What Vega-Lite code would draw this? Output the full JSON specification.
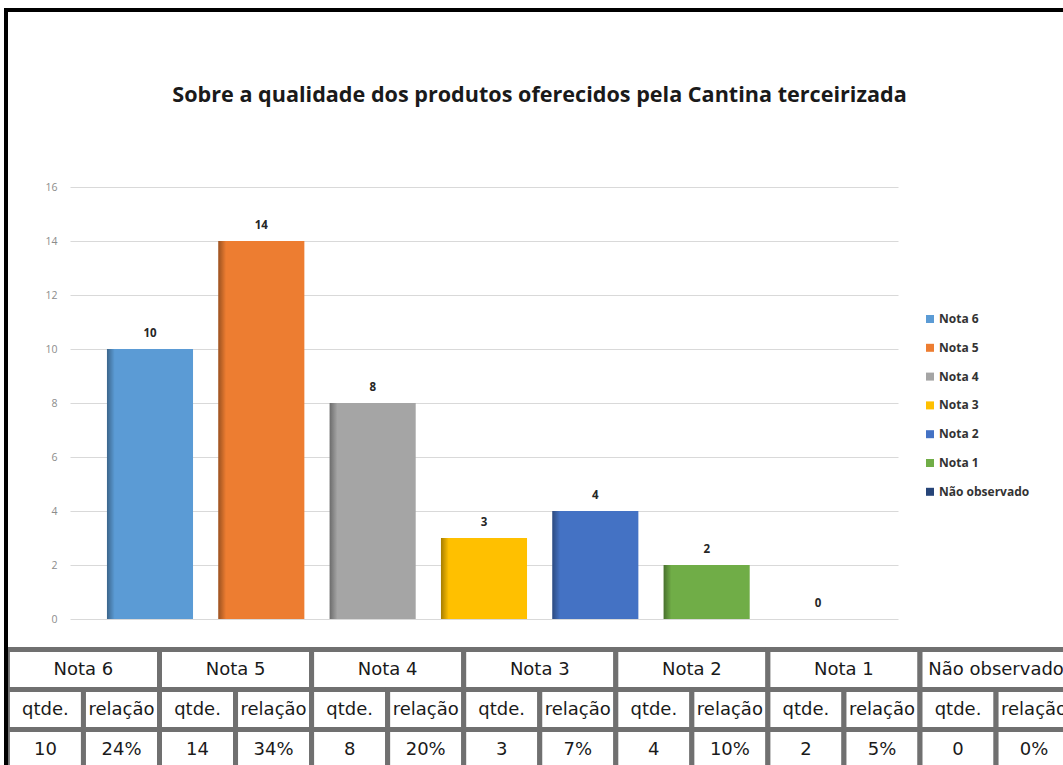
{
  "$schema": "https://vega.github.io/schema/vega-lite/v6.json",
  "width": 1063,
  "height": 765,
  "padding": 0,
  "autosize": {"type": "none"},
  "background": "white",
  "config": {"view": {"stroke": null}},
  "title": {
    "text": "Sobre a qualidade dos produtos oferecidos pela Cantina terceirizada",
    "font": "Open Sans",
    "fontSize": 21.6,
    "fontWeight": "bold",
    "color": "#1a1a1a",
    "anchor": "middle",
    "offset": -107,
    "dx": 8
  },
  "datasets": {
    "notas": [
      {"cat": "Nota 6", "qtde": 10},
      {"cat": "Nota 5", "qtde": 14},
      {"cat": "Nota 4", "qtde": 8},
      {"cat": "Nota 3", "qtde": 3},
      {"cat": "Nota 2", "qtde": 4},
      {"cat": "Nota 1", "qtde": 2},
      {"cat": "Não observado", "qtde": 0}
    ],
    "tabela": [
      {"cat": "Nota 6", "col": "qtde", "cab": "qtde.", "val": "10"},
      {"cat": "Nota 6", "col": "rel", "cab": "relação", "val": "24%"},
      {"cat": "Nota 5", "col": "qtde", "cab": "qtde.", "val": "14"},
      {"cat": "Nota 5", "col": "rel", "cab": "relação", "val": "34%"},
      {"cat": "Nota 4", "col": "qtde", "cab": "qtde.", "val": "8"},
      {"cat": "Nota 4", "col": "rel", "cab": "relação", "val": "20%"},
      {"cat": "Nota 3", "col": "qtde", "cab": "qtde.", "val": "3"},
      {"cat": "Nota 3", "col": "rel", "cab": "relação", "val": "7%"},
      {"cat": "Nota 2", "col": "qtde", "cab": "qtde.", "val": "4"},
      {"cat": "Nota 2", "col": "rel", "cab": "relação", "val": "10%"},
      {"cat": "Nota 1", "col": "qtde", "cab": "qtde.", "val": "2"},
      {"cat": "Nota 1", "col": "rel", "cab": "relação", "val": "5%"},
      {"cat": "Não observado", "col": "qtde", "cab": "qtde.", "val": "0"},
      {"cat": "Não observado", "col": "rel", "cab": "relação", "val": "0%"}
    ]
  },
  "resolve": {
    "scale": {"x": "independent", "y": "independent", "color": "independent", "xOffset": "independent"},
    "axis": {"x": "independent", "y": "independent"}
  },
  "layer": [
    {
      "data": {"name": "notas"},
      "encoding": {
        "x": {
          "field": "cat",
          "type": "nominal",
          "sort": null,
          "scale": {
            "domain": ["Nota 6", "Nota 5", "Nota 4", "Nota 3", "Nota 2", "Nota 1", "Não observado"],
            "range": [70, 898],
            "paddingInner": 0.227,
            "paddingOuter": 0.332
          },
          "axis": null
        },
        "y": {
          "field": "qtde",
          "type": "quantitative",
          "scale": {"domain": [0, 16], "range": [619, 187], "nice": false, "zero": true},
          "axis": {
            "title": null,
            "values": [0, 2, 4, 6, 8, 10, 12, 14, 16],
            "grid": true,
            "gridColor": "#d9d9d9",
            "gridWidth": 1,
            "domain": false,
            "ticks": false,
            "tickSize": 0,
            "labelPadding": 0,
            "offset": -57,
            "labelFont": "Open Sans",
            "labelFontSize": 10.5,
            "labelColor": "#8c8c8c"
          }
        }
      },
      "layer": [
        {
          "mark": {"type": "bar"},
          "encoding": {
            "color": {
              "field": "cat",
              "type": "nominal",
              "sort": null,
              "scale": {
                "domain": ["Nota 6", "Nota 5", "Nota 4", "Nota 3", "Nota 2", "Nota 1", "Não observado"],
                "range": ["#5b9bd5", "#ed7d31", "#a5a5a5", "#ffc000", "#4472c4", "#70ad47", "#264478"]
              },
              "legend": {
                "title": null,
                "orient": "none",
                "legendX": 924,
                "legendY": 313,
                "symbolType": "square",
                "symbolSize": 64,
                "symbolStrokeWidth": 0,
                "labelFont": "Open Sans",
                "labelFontWeight": "bold",
                "labelFontSize": 12,
                "labelColor": "#333333",
                "labelOffset": 3,
                "rowPadding": 16.8
              }
            }
          }
        },
        {
          "mark": {
            "type": "bar",
            "fill": {
              "gradient": "linear",
              "x1": 0, "y1": 0, "x2": 1, "y2": 0,
              "stops": [
                {"offset": 0, "color": "rgba(0,0,0,0.35)"},
                {"offset": 0.09, "color": "rgba(0,0,0,0)"},
                {"offset": 1, "color": "rgba(0,0,0,0)"}
              ]
            }
          }
        },
        {
          "mark": {"type": "text", "baseline": "bottom", "dy": -10, "font": "Open Sans", "fontWeight": "bold", "fontSize": 11.5, "color": "#262626"},
          "encoding": {"text": {"field": "qtde", "type": "quantitative"}}
        }
      ]
    },
    {
      "encoding": {
        "x": {
          "field": "cat",
          "type": "nominal",
          "sort": null,
          "scale": {
            "domain": ["Nota 6", "Nota 5", "Nota 4", "Nota 3", "Nota 2", "Nota 1", "Não observado"],
            "range": [7.4, 1072.1],
            "paddingInner": 0,
            "paddingOuter": 0
          },
          "axis": null
        }
      },
      "layer": [
        {
          "data": {"name": "notas"},
          "mark": {"type": "rect", "fill": "white", "stroke": "#707070", "strokeWidth": 5},
          "encoding": {
            "y": {"datum": "r1", "type": "nominal", "scale": {"domain": ["r1", "r2", "r3"], "range": [649.5, 769.5], "paddingInner": 0, "paddingOuter": 0}, "axis": null}
          }
        },
        {
          "data": {"name": "tabela"},
          "mark": {"type": "rect", "fill": "white", "stroke": "#707070", "strokeWidth": 5},
          "encoding": {
            "xOffset": {"field": "col", "type": "nominal", "scale": {"domain": ["qtde", "rel"], "paddingInner": 0, "paddingOuter": 0}},
            "y": {"datum": "r2", "type": "nominal"}
          }
        },
        {
          "data": {"name": "tabela"},
          "mark": {"type": "rect", "fill": "white", "stroke": "#707070", "strokeWidth": 5},
          "encoding": {
            "xOffset": {"field": "col", "type": "nominal"},
            "y": {"datum": "r3", "type": "nominal"}
          }
        },
        {
          "data": {"name": "notas"},
          "mark": {"type": "text", "font": "DejaVu Sans", "fontSize": 18, "color": "#1a1a1a", "baseline": "middle"},
          "encoding": {
            "y": {"datum": "r1", "type": "nominal"},
            "text": {"field": "cat", "type": "nominal"}
          }
        },
        {
          "data": {"name": "tabela"},
          "mark": {"type": "text", "font": "DejaVu Sans", "fontSize": 18, "color": "#1a1a1a", "baseline": "middle"},
          "encoding": {
            "xOffset": {"field": "col", "type": "nominal"},
            "y": {"datum": "r2", "type": "nominal"},
            "text": {"field": "cab", "type": "nominal"}
          }
        },
        {
          "data": {"name": "tabela"},
          "mark": {"type": "text", "font": "DejaVu Sans", "fontSize": 18, "color": "#1a1a1a", "baseline": "middle"},
          "encoding": {
            "xOffset": {"field": "col", "type": "nominal"},
            "y": {"datum": "r3", "type": "nominal"},
            "text": {"field": "val", "type": "nominal"}
          }
        }
      ]
    },
    {
      "data": {"values": [{}]},
      "mark": {"type": "rect", "fill": "transparent", "stroke": "#000000", "strokeWidth": 4},
      "encoding": {
        "x": {"datum": 0, "type": "quantitative", "scale": {"domain": [0, 1], "range": [6, 1200], "nice": false, "zero": false}, "axis": null},
        "x2": {"datum": 1},
        "y": {"datum": 0, "type": "quantitative", "scale": {"domain": [0, 1], "range": [10, 900], "nice": false, "zero": false}, "axis": null},
        "y2": {"datum": 1}
      }
    }
  ]
}
